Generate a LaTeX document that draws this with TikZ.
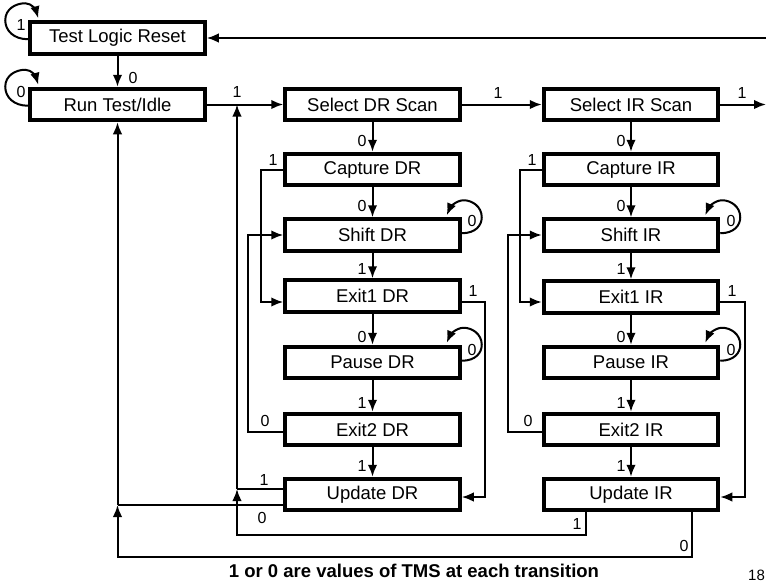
\documentclass[tikz,border=0pt]{standalone}
\usepackage{fontspec}
\setmainfont{Liberation Sans}
\usetikzlibrary{arrows.meta,calc}
\begin{document}
\begin{tikzpicture}[x=1pt,y=-1pt,
  sb/.style={draw, line width=4pt, minimum width=174.5pt, minimum height=31.5pt,
    inner sep=0pt, font=\fontsize{18.5}{20}\selectfont},
  ln/.style={line width=2pt},
  arr/.style={ln, -{Latex[length=12pt,width=9.5pt]}},
  lbl/.style={inner sep=0pt, font=\fontsize{16}{18}\selectfont},
]
\useasboundingbox (0,0) rectangle (766,582);
% states
\node[sb] (tlr) at (117.5,38) {Test Logic Reset};
\node[sb] (rti) at (117.5,104.5) {Run Test/Idle};
\node[sb] (sdr) at (372.5,104.5) {Select DR Scan};
\node[sb] (cdr) at (372.5,169.5) {Capture DR};
\node[sb] (shdr) at (372.5,235) {Shift DR};
\node[sb] (e1dr) at (372.5,296) {Exit1 DR};
\node[sb] (pdr) at (372.5,362.5) {Pause DR};
\node[sb] (e2dr) at (372.5,429.5) {Exit2 DR};
\node[sb] (udr) at (372.5,494.5) {Update DR};
\node[sb] (sir) at (631,104.5) {Select IR Scan};
\node[sb] (cir) at (631,169.5) {Capture IR};
\node[sb] (shir) at (631,235) {Shift IR};
\node[sb] (e1ir) at (631,297) {Exit1 IR};
\node[sb] (pir) at (631,362.5) {Pause IR};
\node[sb] (e2ir) at (631,429.5) {Exit2 IR};
\node[sb] (uir) at (631,494.5) {Update IR};
% free ends and junctions
\coordinate (rout) at (766,104.5);
\coordinate (rin) at (766,38);
\coordinate (j1) at (237,489);
\coordinate (t1) at (237,104.5);
\coordinate (j0) at (117.5,505);
% main vertical chain
\draw[arr] (tlr) -- (rti);
\foreach \a/\b in {sdr/cdr,cdr/shdr,shdr/e1dr,e1dr/pdr,pdr/e2dr,e2dr/udr,
                   sir/cir,cir/shir,shir/e1ir,e1ir/pir,pir/e2ir,e2ir/uir}
  \draw[arr] (\a.south) -- (\b.north);
% horizontal chain
\draw[arr] (rti.east) -- (sdr.west);
\draw[arr] (sdr.east) -- (sir.west);
\draw[arr] (sir.east) -- (rout);
\draw[arr] (rin) -- (tlr.east);
% DR column side paths
\draw[arr] (cdr.west) -- (261,169.5) -- (261,302) -- ($(e1dr.west)+(0,6)$);
\draw[arr] ($(e2dr.west)+(0,2.5)$) -- (248,432) -- (248,235) -- (shdr.west);
\draw[arr] ($(e1dr.east)+(0,6)$) -- (485,302) -- (485,497) -- ($(udr.east)+(0,2.5)$);
% IR column side paths
\draw[arr] (cir.west) -- (520,169.5) -- (520,302) -- ($(e1ir.west)+(0,5)$);
\draw[arr] ($(e2ir.west)+(0,2.5)$) -- (508,432) -- (508,235) -- (shir.west);
\draw[arr] ($(e1ir.east)+(0,5)$) -- (745,302) -- (745,497) -- ($(uir.east)+(0,2.5)$);
% update returns
\draw[ln] ($(udr.west)+(0,-5.5)$) -- (j1);
\draw[arr] ($(uir.south)+(-45,0)$) -- (586,535) -- (237,535) -- (j1);
\draw[arr] (j1) -- (t1);
\draw[ln] ($(udr.west)+(0,10.5)$) -- (j0);
\draw[arr] ($(uir.south)+(61,0)$) -- (692,557) -- (117.5,557) -- (j0);
\draw[arr] (j0) -- (rti.south);
% self loops (left side)
\foreach \n in {tlr,rti}
  \draw[arr, shift={(\n.north west)}] (0,19) .. controls (-15,19) and (-23,10) .. (-23,0)
     .. controls (-23,-11) and (-13,-17) .. (-3,-17) .. controls (4,-17) and (8,-9) .. (10,-2);
% self loops (right side)
\foreach \n in {shdr,pdr,shir,pir}
  \draw[arr, shift={(\n.north east)}] (0,16) .. controls (14,16) and (20,8) .. (20,0)
     .. controls (20,-11) and (10,-17) .. (2,-17) .. controls (-6,-17) and (-12,-9) .. (-15,-2);
% labels
\node[lbl] (L01) at (21,25) {1};
\node[lbl] (L02) at (21,92) {0};
\node[lbl] (L03) at (133,78) {0};
\node[lbl] (L04) at (237,92) {1};
\node[lbl] (L05) at (498,93) {1};
\node[lbl] (L06) at (742,93) {1};
\foreach \x in {362,621}{
  \node[lbl] at (\x,141) {0};
  \node[lbl] at (\x,206) {0};
  \node[lbl] at (\x,269) {1};
  \node[lbl] at (\x,337) {0};
  \node[lbl] at (\x,403) {1};
  \node[lbl] at (\x,466) {1};
}
\node[lbl] (L07) at (472,221) {0};
\node[lbl] (L08) at (472,350) {0};
\node[lbl] (L09) at (731,221) {0};
\node[lbl] (L10) at (731,350) {0};
\node[lbl] (L11) at (273,160) {1};
\node[lbl] (L12) at (265,421) {0};
\node[lbl] (L13) at (532,160) {1};
\node[lbl] (L14) at (528,421) {0};
\node[lbl] (L15) at (473,291) {1};
\node[lbl] (L16) at (732,291) {1};
\node[lbl] (L17) at (264,480) {1};
\node[lbl] (L18) at (262,518) {0};
\node[lbl] (L19) at (577,524) {1};
\node[lbl] (L20) at (684,546) {0};
\node[inner sep=0pt, font=\bfseries\fontsize{18.5}{20}\selectfont] (cap) at (414,571)
  {1 or 0 are values of TMS at each transition};
\node[inner sep=0pt, anchor=west, font=\fontsize{15}{16}\selectfont] (pg) at (748,575) {18};
\end{tikzpicture}
\end{document}
